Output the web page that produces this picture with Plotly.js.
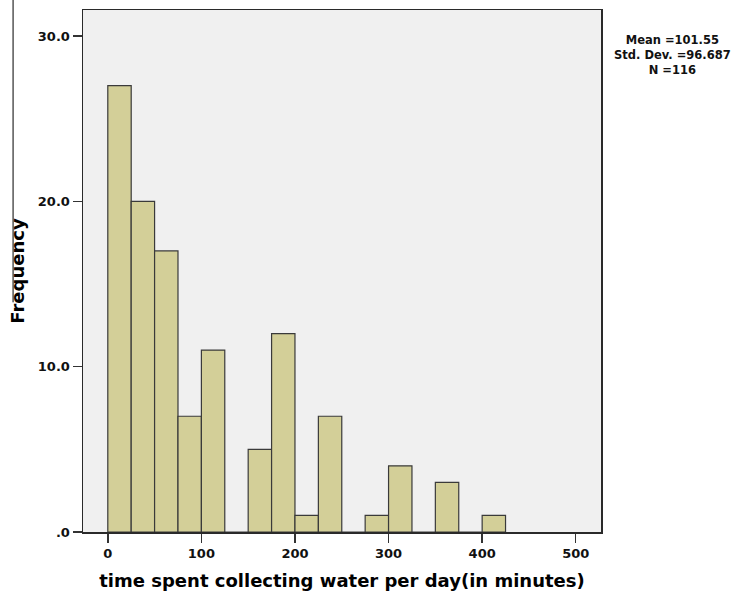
<!DOCTYPE html>
<html>
<head>
<meta charset="utf-8">
<script src="https://cdn.plot.ly/plotly-3.0.1.min.js"></script>
<style>html,body{margin:0;padding:0;background:#fff;}#chart{width:743px;height:598px;}</style>
</head>
<body>
<div id="chart"></div>
<script>
// Histogram bins (start of each 25-minute bin) and frequencies
const binStarts = [0, 25, 50, 75, 100, 125, 150, 175, 200, 225, 250, 275, 300, 325, 350, 375, 400];
const counts    = [27, 20, 17, 7, 11, 0, 5, 12, 1, 7, 0, 1, 4, 0, 3, 0, 1];
const binWidth = 25;
const xTickVals = [0, 100, 200, 300, 400, 500];
const xTickText = ["0", "100", "200", "300", "400", "500"];
const yTickVals = [0, 10, 20, 30];
const yTickText = [".0", "10.0", "20.0", "30.0"];
const statsLines = ["Mean =101.55", "Std. Dev. =96.687", "N =116"];

const FONT = "DejaVu Sans, Liberation Sans, sans-serif";
const b = s => "<b>" + s + "</b>";

const trace = {
  type: "bar",
  x: binStarts,
  y: counts,
  width: binStarts.map(() => binWidth),
  offset: 0,
  marker: {color: "#d3cf98", line: {color: "#3a3a3a", width: 1.2}},
  hoverinfo: "skip"
};

// plot area: x 82.5..601, y 9.5..532
const plotH = 522.5, plotW = 518.5;

const layout = {
  width: 743, height: 598,
  margin: {l: 82.5, r: 142, t: 9.5, b: 66},
  paper_bgcolor: "#ffffff",
  plot_bgcolor: "#f0f0f0",
  showlegend: false,
  bargap: 0,
  xaxis: {
    range: [-26.5, 527],
    tickvals: xTickVals, ticktext: xTickText.map(b),
    ticks: "outside", ticklen: 9, tickwidth: 1.5, tickcolor: "#333",
    showgrid: false, zeroline: false,
    showline: true, mirror: true, linecolor: "#2a2a2a", linewidth: 1.5,
    tickfont: {family: FONT, size: 13, color: "#111"},
    title: {text: b("time spent collecting water per day(in minutes)"), font: {family: FONT, size: 18, color: "#000"}, standoff: 14}
  },
  yaxis: {
    range: [0, 31.57],
    tickvals: yTickVals, ticktext: yTickText.map(b),
    ticks: "outside", ticklen: 9, tickwidth: 1.5, tickcolor: "#333",
    showgrid: false, zeroline: false,
    showline: true, mirror: true, linecolor: "#2a2a2a", linewidth: 1.5,
    tickfont: {family: FONT, size: 13, color: "#111"},
    title: {text: b("Frequency"), font: {family: FONT, size: 18, color: "#000"}, standoff: 8}
  },
  annotations: [{
    xref: "paper", yref: "paper",
    x: (673 - 82.5) / plotW, y: (532 - 54.5) / plotH,
    xanchor: "center", yanchor: "middle",
    text: b(statsLines.join("<br>")), showarrow: false, align: "center",
    font: {family: FONT, size: 11.5, color: "#111"}
  }],
  shapes: [{
    type: "line", xref: "paper", yref: "paper",
    x0: -0.135, x1: -0.135, y0: 1.02, y1: 0.44,
    line: {color: "#000", width: 1}
  }]
};

Plotly.newPlot("chart", [trace], layout, {displayModeBar: false, staticPlot: true});
</script>
</body>
</html>
